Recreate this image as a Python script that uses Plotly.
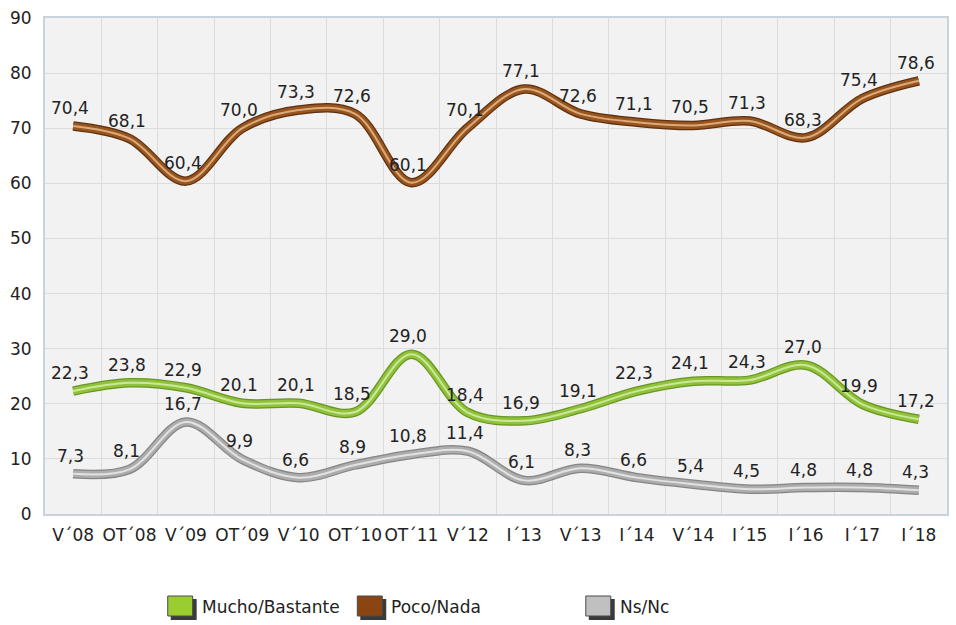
import plotly.graph_objects as go

# Survey waves
categories = ["V´08", "OT´08", "V´09", "OT´09", "V´10", "OT´10", "OT´11", "V´12",
              "I´13", "V´13", "I´14", "V´14", "I´15", "I´16", "I´17", "I´18"]

# Percentages per answer
mucho_bastante = [22.3, 23.8, 22.9, 20.1, 20.1, 18.5, 29.0, 18.4,
                  16.9, 19.1, 22.3, 24.1, 24.3, 27.0, 19.9, 17.2]
poco_nada = [70.4, 68.1, 60.4, 70.0, 73.3, 72.6, 60.1, 70.1,
             77.1, 72.6, 71.1, 70.5, 71.3, 68.3, 75.4, 78.6]
ns_nc = [7.3, 8.1, 16.7, 9.9, 6.6, 8.9, 10.8, 11.4,
         6.1, 8.3, 6.6, 5.4, 4.5, 4.8, 4.8, 4.3]

y_ticks = [0, 10, 20, 30, 40, 50, 60, 70, 80, 90]

FONT = "DejaVu Sans"
FS = 17
TXT = "#222222"

# name, values, (edge, body, highlight)
series = [
    ("Mucho/Bastante", mucho_bastante, ("#6a9424", "#8fc33a", "#cde79a")),
    ("Poco/Nada", poco_nada, ("#5e300f", "#97551f", "#dcaa78")),
    ("Ns/Nc", ns_nc, ("#858585", "#adadad", "#e2e2e2")),
]

fig = go.Figure()

# Bevelled smooth lines: dark edge, body, light centre stripe
for name, vals, (edge, body, hi) in series:
    for col, w in ((edge, 9.5), (body, 7), (hi, 2)):
        fig.add_trace(go.Scatter(
            x=categories, y=vals, mode="lines",
            line=dict(color=col, width=w, shape="spline", smoothing=1.0),
            showlegend=False, hoverinfo="skip",
        ))

annotations = []

# Value labels above each point
for name, vals, _ in series:
    for c, v in zip(categories, vals):
        annotations.append(dict(
            x=c, y=v, xref="x", yref="y",
            text=f"{v:.1f}".replace(".", ","),
            showarrow=False, xanchor="center", yanchor="bottom",
            xshift=-3, yshift=6,
            font=dict(family=FONT, size=FS, color=TXT),
        ))

# Legend drawn as boxes with a drop shadow
legend_items = [
    ("Mucho/Bastante", "#9acd32", 168),
    ("Poco/Nada", "#8b4513", 358),
    ("Ns/Nc", "#c0c0c0", 587),
]
W, H = 956, 625
L, R, T, B = 45, 7, 18, 111
PW, PH = W - L - R, H - T - B


def px(x):
    return (x - L) / PW


def py(y):
    return (H - B - y) / PH


shapes = []
for label, col, x0 in legend_items:
    y0 = 596
    shapes.append(dict(type="rect", xref="paper", yref="paper",
                       x0=px(x0 + 3), x1=px(x0 + 29),
                       y0=py(y0 + 24), y1=py(y0 + 3),
                       fillcolor="#3a3a3a", line=dict(width=0), layer="above"))
    shapes.append(dict(type="rect", xref="paper", yref="paper",
                       x0=px(x0), x1=px(x0 + 25),
                       y0=py(y0 + 20), y1=py(y0),
                       fillcolor=col, line=dict(color="#4a4a4a", width=1), layer="above"))
    annotations.append(dict(xref="paper", yref="paper",
                            x=px(x0 + 32), y=py(y0 + 11),
                            text=label, showarrow=False, xanchor="left", yanchor="middle",
                            font=dict(family=FONT, size=FS, color=TXT)))

fig.update_layout(
    width=W, height=H,
    margin=dict(l=L, r=R, t=T, b=B),
    paper_bgcolor="white",
    plot_bgcolor="#f2f2f2",
    font=dict(family=FONT, size=FS, color=TXT),
    shapes=shapes,
    annotations=annotations,
    showlegend=False,
)

fig.update_xaxes(
    type="category", categoryorder="array", categoryarray=categories,
    tickson="boundaries", showgrid=True, gridcolor="#dcdcdc", gridwidth=1,
    showline=True, linecolor="#c9d3de", linewidth=2, mirror=True,
    ticks="", tickangle=0, ticklabelstandoff=5,
    tickfont=dict(family=FONT, size=FS, color=TXT),
    range=[-0.5, len(categories) - 0.5], fixedrange=True,
)
fig.update_yaxes(
    range=[0, 90], tickvals=y_ticks, ticktext=[str(v) for v in y_ticks],
    showgrid=True, gridcolor="#dcdcdc", gridwidth=1, zeroline=False,
    showline=True, linecolor="#c9d3de", linewidth=2, mirror=True,
    ticks="", ticklabelstandoff=8,
    tickfont=dict(family=FONT, size=FS, color=TXT), fixedrange=True,
)

fig.write_html("out.html")
